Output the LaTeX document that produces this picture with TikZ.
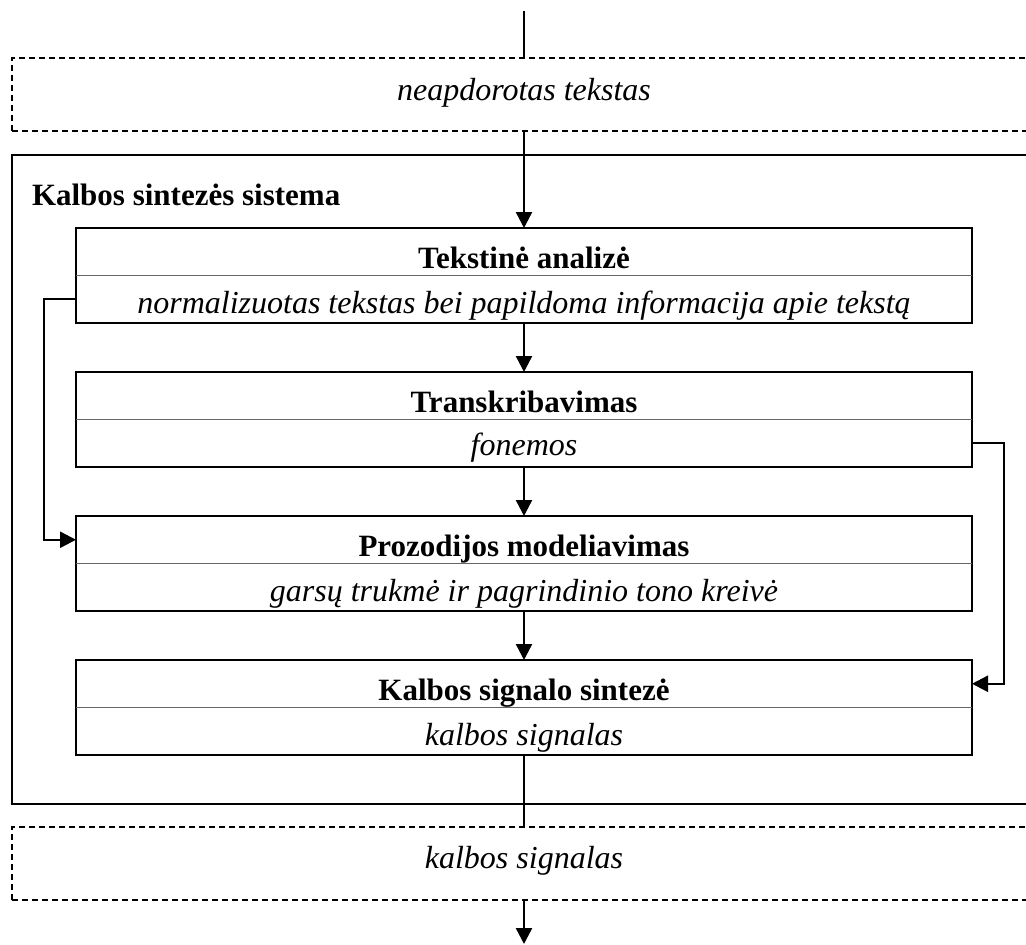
\documentclass[tikz,border=0pt]{standalone}
\usepackage{fontspec}
\setmainfont{Liberation Serif}
\usetikzlibrary{arrows.meta,calc}
\begin{document}
\begin{tikzpicture}[x=1pt,y=-1pt,
  every node/.style={inner sep=0pt,outer sep=0pt},
  txt/.style={font=\fontsize{31}{37}\selectfont},
  ttl/.style={txt,font=\fontsize{31}{37}\selectfont\bfseries,anchor=base},
  sub/.style={txt,font=\fontsize{32}{38}\selectfont\itshape,anchor=base},
  procbox/.style={draw,line width=2.6pt,minimum width=896pt,minimum height=95pt},
  divline/.style={line width=1.2pt,draw=black!60},
  dashbox/.style={draw,line width=2.4pt,dash pattern=on 6pt off 4pt,anchor=north west,minimum width=1040pt,minimum height=73pt},
  sysbox/.style={draw,line width=2.6pt,anchor=north west,minimum width=1040pt,minimum height=649pt},
  conn/.style={line width=2.4pt},
  arr/.style={conn,-{Triangle[length=16pt,width=16pt]}}
]
\useasboundingbox (0,0) rectangle (1026,945);
% frames
\node[dashbox] (in) at (12,58) {};
\node[sysbox] (sys) at (12,155) {};
\node[dashbox] (out) at (12,827) {};
\node[txt,font=\fontsize{31}{37}\selectfont\bfseries,anchor=base west] (systitle) at (32,205) {Kalbos sintezės sistema};
\node[sub] (intxt) at (524,100) {neapdorotas tekstas};
\node[sub] (outtxt) at (524,868) {kalbos signalas};
% process boxes
\node[procbox] (b1) at (524,275.5) {};
\node[procbox] (b2) at (524,419.5) {};
\node[procbox] (b3) at (524,563.5) {};
\node[procbox] (b4) at (524,707.5) {};
\foreach \b in {b1,b2,b3,b4}{\draw[divline] (\b.west) -- (\b.east);}
\node[ttl] (t1) at (524,268) {Tekstinė analizė};
\node[sub] (s1) at (524,313) {normalizuotas tekstas bei papildoma informacija apie tekstą};
\node[ttl] (t2) at (524,412) {Transkribavimas};
\node[sub] (s2) at (524,455) {fonemos};
\node[ttl] (t3) at (524,556) {Prozodijos modeliavimas};
\node[sub] (s3) at (524,601) {garsų trukmė ir pagrindinio tono kreivė};
\node[ttl] (t4) at (524,700) {Kalbos signalo sintezė};
\node[sub] (s4) at (524,745) {kalbos signalas};
% connector endpoints
\coordinate (top) at (524,11);
\coordinate (bottom) at (524,944);
\coordinate (b1low) at ($(b1.west)!0.5!(b1.south west)$);
\coordinate (b3up) at ($(b3.west)!0.5!(b3.north west)$);
\coordinate (b2low) at ($(b2.east)!0.5!(b2.south east)$);
\coordinate (b4up) at ($(b4.east)!0.5!(b4.north east)$);
% connectors
\draw[conn] (top) -- (top |- in.north);
\draw[arr] (b1.north |- in.south) -- (b1.north);
\draw[arr] (b1.south) -- (b2.north);
\draw[arr] (b2.south) -- (b3.north);
\draw[arr] (b3.south) -- (b4.north);
\draw[conn] (b4.south) -- (b4.south |- out.north);
\draw[arr] (bottom |- out.south) -- (bottom);
\draw[arr] (b1low) -- ++(-32,0) |- (b3up);
\draw[arr] (b2low) -- ++(32,0) |- (b4up);
\end{tikzpicture}
\end{document}
